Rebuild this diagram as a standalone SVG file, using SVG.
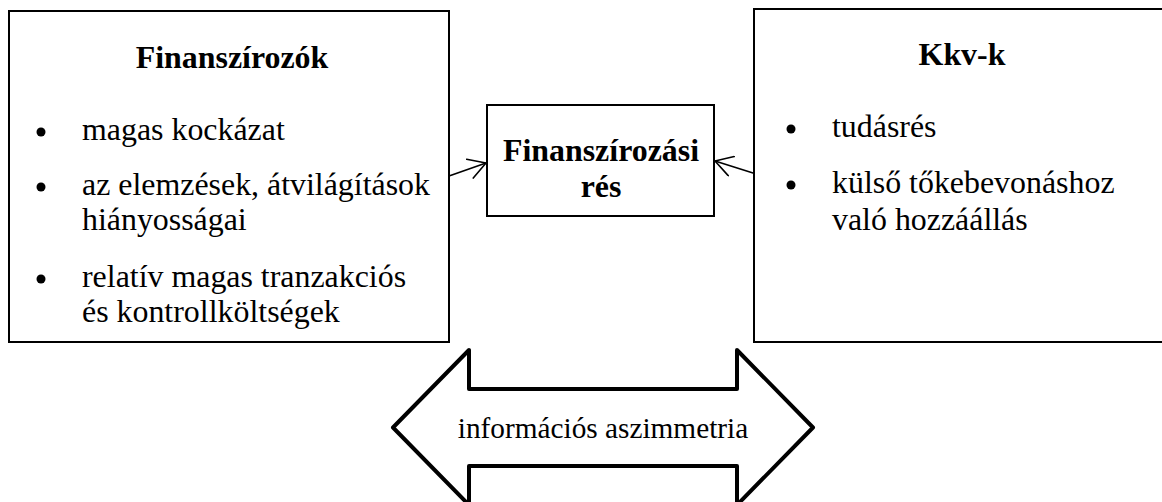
<svg xmlns="http://www.w3.org/2000/svg" width="1162" height="502" viewBox="0 0 1162 502">
<defs>
<style>
.box{fill:#fff;stroke:#000;stroke-width:2}
.t{font-family:'Liberation Serif','Times New Roman',Times,serif;font-size:31.9px;fill:#000}
.b{font-weight:bold}
.c{stroke:#000;stroke-width:1.6;fill:none;stroke-linecap:round;stroke-linejoin:round}
</style>
<marker id="open" viewBox="0 0 20 22" refX="18" refY="11" markerWidth="20" markerHeight="22" markerUnits="userSpaceOnUse" orient="auto">
<path d="M1,1 L18,11 L1,21" fill="none" stroke="#000" stroke-width="1.6" stroke-linecap="round" stroke-linejoin="round"/>
</marker>
</defs>
<rect width="1162" height="502" fill="#fff"/>
<g id="finanszirozok">
<rect class="box" x="9" y="11" width="440" height="331"/>
<text class="t b" x="232" y="68" text-anchor="middle">Finanszírozók</text>
<circle cx="41" cy="132" r="4.5"/>
<text class="t" x="82" y="140">magas kockázat</text>
<circle cx="41" cy="187" r="4.5"/>
<text class="t" x="82" y="195">az elemzések, átvilágítások</text>
<text class="t" x="82" y="230">hiányosságai</text>
<circle cx="41" cy="279" r="4.5"/>
<text class="t" x="82" y="287">relatív magas tranzakciós</text>
<text class="t" x="82" y="322">és kontrollköltségek</text>
</g>
<g id="kkvk">
<rect class="box" x="754" y="9" width="420" height="333"/>
<text class="t b" x="962" y="65" text-anchor="middle">Kkv-k</text>
<circle cx="791" cy="129" r="4.5"/>
<text class="t" x="832" y="137">tudásrés</text>
<circle cx="791" cy="185" r="4.5"/>
<text class="t" x="832" y="193">külső tőkebevonáshoz</text>
<text class="t" x="832" y="230">való hozzáállás</text>
</g>
<g id="finanszirozasi-res">
<rect class="box" x="487" y="105" width="227" height="111"/>
<text class="t b" x="601" y="161" text-anchor="middle">Finanszírozási</text>
<text class="t b" x="601" y="197" text-anchor="middle">rés</text>
</g>
<g id="connectors">
<line class="c" x1="449" y1="176" x2="486" y2="163" marker-end="url(#open)"/>
<line class="c" x1="753" y1="173" x2="715" y2="161" marker-end="url(#open)"/>
</g>
<g id="informacios-aszimmetria">
<path d="M393,427.5 L469,350 L469,389 L737,389 L737,350 L813,427.5 L737,505 L737,466 L469,466 L469,505 Z" fill="#fff" stroke="#000" stroke-width="4" stroke-linejoin="round"/>
<text class="t" x="603" y="438" text-anchor="middle" style="font-size:29.3px">információs aszimmetria</text>
</g>
</svg>
